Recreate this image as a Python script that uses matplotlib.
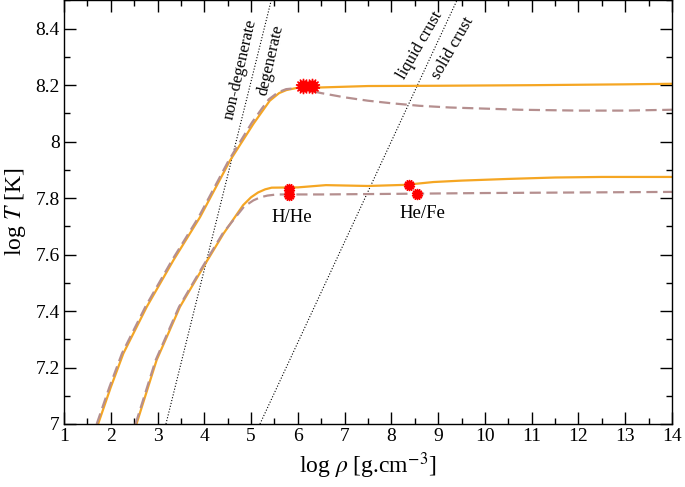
import matplotlib
matplotlib.use('Agg')
import matplotlib.pyplot as plt
from matplotlib.ticker import MultipleLocator, FormatStrFormatter

plt.rcParams['font.family'] = ['Liberation Serif', 'DejaVu Serif']
plt.rcParams['mathtext.fontset'] = 'stix'

# profiles log T vs log rho
hot_rho = [1.73, 2.0, 2.27, 2.77, 3.34, 3.91, 4.55, 5.05, 5.25, 5.40, 5.6, 5.76, 5.97, 6.5, 7.5, 9.0, 11.0, 13.0, 14.0]
hot_T = [7.0, 7.13, 7.25, 7.415, 7.58, 7.733, 7.933, 8.063, 8.11, 8.145, 8.172, 8.183, 8.190, 8.192, 8.197, 8.198, 8.200, 8.203, 8.205]
hot_rho_d = [1.70, 1.97, 2.24, 2.74, 3.31, 3.88, 4.52, 5.02, 5.23, 5.38, 5.58, 5.75, 6.0, 6.5, 7.0, 7.5, 8.0, 8.6, 9.25, 10.0, 10.75, 12.0, 13.0, 14.0]
hot_T_d = [7.0, 7.13, 7.25, 7.415, 7.58, 7.733, 7.933, 8.068, 8.117, 8.15, 8.175, 8.186, 8.19, 8.172, 8.157, 8.145, 8.136, 8.127, 8.121, 8.117, 8.113, 8.11, 8.11, 8.113]

cool_rho = [2.55, 2.98, 3.48, 3.98, 4.41, 4.83, 5.0, 5.15, 5.3, 5.44, 6.0, 6.6, 7.5, 8.3, 8.9, 9.5, 10.5, 11.5, 12.5, 14.0]
cool_T = [7.0, 7.226, 7.415, 7.556, 7.674, 7.775, 7.803, 7.82, 7.831, 7.837, 7.838, 7.846, 7.843, 7.847, 7.857, 7.862, 7.868, 7.873, 7.875, 7.875]
cool_rho_d = [2.53, 2.96, 3.46, 3.96, 4.39, 4.85, 5.05, 5.2, 5.35, 5.55, 6.5, 8.0, 10.0, 12.0, 14.0]
cool_T_d = [7.0, 7.226, 7.415, 7.556, 7.674, 7.77, 7.792, 7.803, 7.809, 7.813, 7.813, 7.815, 7.818, 7.82, 7.822]

# composition boundaries
mark_rho_big = [6.1, 6.3]
mark_T_big = [8.197, 8.197]
mark_rho_small = [5.82, 5.82, 8.38, 8.55]
mark_T_small = [7.833, 7.81, 7.848, 7.813]

# degeneracy and crystallisation lines
degen_rho = [3.18, 5.43]
degen_T = [7.0, 8.5]
crust_rho = [5.19, 9.40]
crust_T = [7.0, 8.5]

fig = plt.figure(figsize=(6.85, 4.87), dpi=100)
ax = fig.add_axes([0.0934, 0.1294, 0.8876, 0.8696])

ax.plot(degen_rho, degen_T, ls=':', color='black', lw=0.8)
ax.plot(crust_rho, crust_T, ls=':', color='black', lw=0.8)

orange = '#F5A623'
rose = '#B58F8F'
ax.plot(hot_rho, hot_T, color=orange, lw=1.6)
ax.plot(cool_rho, cool_T, color=orange, lw=1.6)
ax.plot(hot_rho_d, hot_T_d, color=rose, lw=1.6, dashes=(5, 2.5))
ax.plot(cool_rho_d, cool_T_d, color=rose, lw=1.6, dashes=(5, 2.5))

ax.plot(mark_rho_big, mark_T_big, ls='none', marker=(14, 1, 0), ms=11, color='red', mec='red')
ax.plot(mark_rho_small, mark_T_small, ls='none', marker=(14, 1, 0), ms=8, color='red', mec='red')

ax.text(5.87, 7.733, 'H/He', fontsize=13.5, ha='center', va='center')
ax.text(8.67, 7.746, 'He/Fe', fontsize=13.5, ha='center', va='center')
ax.text(4.78, 8.255, 'non-degenerate', fontsize=12, rotation=77, ha='center', va='center')
ax.text(5.43, 8.29, 'degenerate', fontsize=12, rotation=77, ha='center', va='center')
ax.text(8.61, 8.343, 'liquid crust', fontsize=12, rotation=60, ha='center', va='center')
ax.text(9.32, 8.333, 'solid crust', fontsize=12, rotation=60, ha='center', va='center')

ax.set_xlim(1, 14)
ax.set_ylim(7, 8.5)
ax.xaxis.set_major_locator(MultipleLocator(1))
ax.xaxis.set_minor_locator(MultipleLocator(0.5))
ax.yaxis.set_major_locator(MultipleLocator(0.2))
ax.yaxis.set_minor_locator(MultipleLocator(0.1))
ax.yaxis.set_major_formatter(FormatStrFormatter('%g'))
ax.tick_params(which='both', direction='in', top=True, right=True, labelsize=14, pad=3)
ax.tick_params(which='major', length=8.5, width=1)
ax.tick_params(which='minor', length=4.3, width=1)
for s in ax.spines.values():
    s.set_linewidth(1)

ax.set_xlabel(r'log $\rho$ [g.cm$^{\mathrm{-3}}$]', fontsize=17, labelpad=4)
ax.set_ylabel(r'log $T$ [K]', fontsize=17, labelpad=5)

plt.savefig('out.png', dpi=100)
